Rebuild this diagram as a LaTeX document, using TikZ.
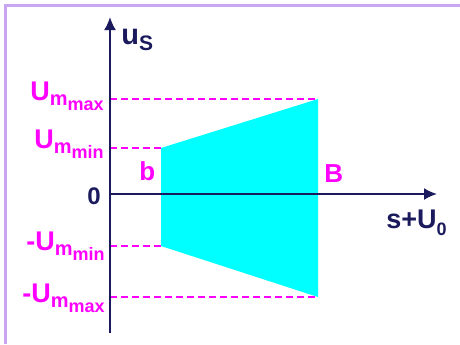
\documentclass[tikz,border=0pt]{standalone}
\usepackage{fontspec}
\setmainfont{Liberation Sans}
\usetikzlibrary{arrows.meta}
\definecolor{ink}{HTML}{1A1A5C}
\definecolor{pink}{HTML}{FF00FF}
\definecolor{cyanfill}{HTML}{00FFFF}
\definecolor{lilac}{HTML}{C9A6F2}
\tikzset{
  frameline/.style={draw=lilac, line width=1.3pt},
  axis/.style={draw=ink, line width=1pt, -{Latex[length=6.5pt,width=6pt]}},
  level/.style={draw=pink, line width=0.6pt, dash pattern=on 3.5pt off 2pt},
  pinklabel/.style={font=\bfseries, text=pink, inner sep=0pt},
  inklabel/.style={font=\bfseries, text=ink, inner sep=0pt}
}
\newcommand{\ulevel}[2]{\fontsize{13.5}{15}\selectfont #1U\raisebox{-2.5pt}{\fontsize{10}{12}\selectfont m\raisebox{-2.5pt}{\fontsize{9}{11}\selectfont #2}}}
\begin{document}
\begin{tikzpicture}[x=0.5pt,y=-0.5pt]
\useasboundingbox (0,0) rectangle (460,344);
\draw[frameline] (5.5,344) -- (5.5,5.5) -- (460,5.5);
% axes
\coordinate (O) at (110,194);
\coordinate (ytip) at (110,17);
\coordinate (ybot) at (110,333);
\coordinate (xtip) at (437,194);
% levels on the u axis
\coordinate (umax) at (110,99);
\coordinate (umin) at (110,148);
\coordinate (numin) at (110,246);
\coordinate (numax) at (110,297);
% corners of the band
\coordinate (bt) at (161,148);
\coordinate (Bt) at (318,99);
\coordinate (Bb) at (318,297);
\coordinate (bb) at (161,246);
\fill[cyanfill] (bt) -- (Bt) -- (Bb) -- (bb) -- cycle;
\draw[level] (umax) -- (Bt);
\draw[level] (umin) -- (bt);
\draw[level] (numin) -- (bb);
\draw[level] (numax) -- (Bb);
\draw[axis] (ybot) -- (ytip);
\draw[axis] (O) -- (xtip);
% labels
\node[pinklabel, anchor=base east] (lmax) at (104,100) {\ulevel{}{max}};
\node[pinklabel, anchor=base east] (lmin) at (104,148) {\ulevel{}{min}};
\node[pinklabel, anchor=base east] (lnmin) at (105,250) {\ulevel{-}{min}};
\node[pinklabel, anchor=base east] (lnmax) at (105,302) {\ulevel{-}{max}};
\node[pinklabel, anchor=base west, font=\bfseries\fontsize{13}{14}\selectfont] (lb) at (139,180) {b};
\node[pinklabel, anchor=base west, font=\bfseries\fontsize{13}{14}\selectfont] (lB) at (324,182) {B};
\node[inklabel, anchor=base east, font=\bfseries\fontsize{12}{14}\selectfont] (lO) at (101,204) {0};
\node[inklabel, anchor=base west] (lu) at (121,44) {\fontsize{14.5}{16}\selectfont u\raisebox{-3pt}{\fontsize{10.5}{12}\selectfont S}};
\node[inklabel, anchor=base west] (ls) at (386,228) {\fontsize{13.5}{15}\selectfont s+U\raisebox{-3.5pt}{\fontsize{9}{11}\selectfont 0}};
\end{tikzpicture}
\end{document}
